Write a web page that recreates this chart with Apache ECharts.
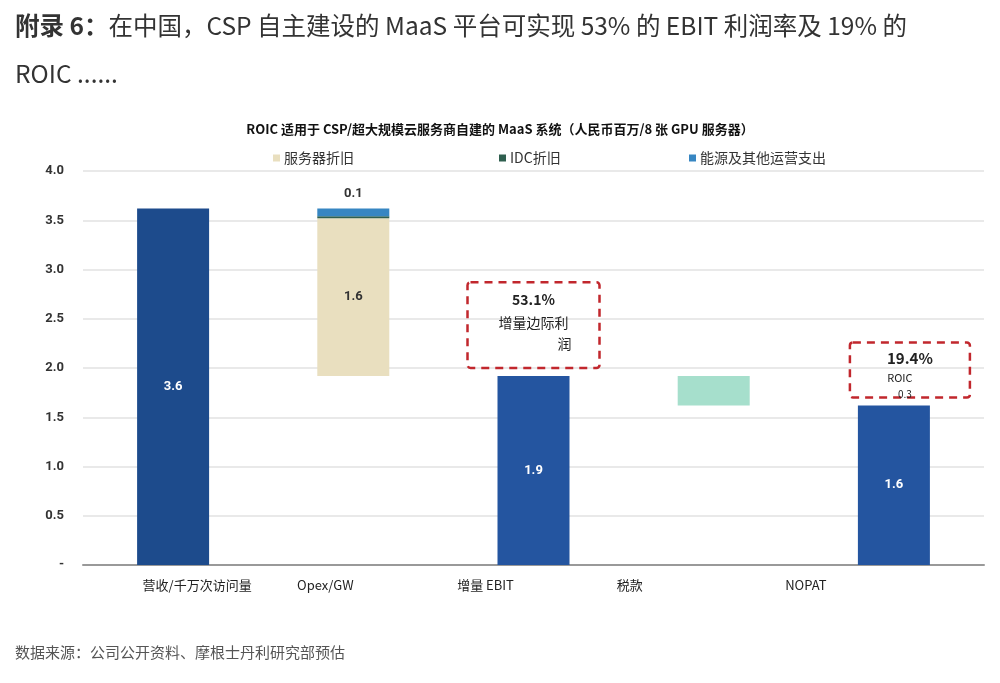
<!DOCTYPE html>
<html>
<head>
<meta charset="utf-8">
<script src="https://cdn.jsdelivr.net/npm/echarts@6/dist/echarts.min.js"></script>
<style>
  html, body { margin: 0; padding: 0; background: #fff; }
  #main { width: 1000px; height: 683px; }
</style>
</head>
<body>
<div id="main"></div>
<script>
// 数据
var categories = ['营收/千万次访问量', 'Opex/GW', '增量 EBIT', '税款', 'NOPAT'];
var baseValues = [0, 1.92, 0, 1.62, 0];          // 瀑布图透明底座
var mainValues = [3.62, '-', 1.92, '-', 1.62];   // 营收 / EBIT / NOPAT
var serverDep = ['-', 1.60, '-', '-', '-'];      // 服务器折旧
var idcDep = ['-', 0.02, '-', '-', '-'];         // IDC折旧
var energyOpex = ['-', 0.08, '-', '-', '-'];     // 能源及其他运营支出
var taxValues = ['-', '-', '-', 0.30, '-'];      // 税款
var yTicks = [0, 0.5, 1.0, 1.5, 2.0, 2.5, 3.0, 3.5, 4.0];
var ebitMargin = '53.1%';
var roic = '19.4%';

var labelShift = [24, -28, -48, -84, -88];

var cjk = '"Noto Sans CJK SC", "Noto Sans", sans-serif';
var num = 'Roboto, "Noto Sans", sans-serif';

var myChart = echarts.init(document.getElementById('main'));

var xRich = {};
labelShift.forEach(function (s, i) {
    xRich['s' + i] = {
        fontSize: 13,
        color: '#222',
        fontFamily: cjk,
        padding: s > 0 ? [0, 0, 0, s * 2] : [0, -s * 2, 0, 0]
    };
});

function fmt1(p) { return Number(p.value).toFixed(1); }

var option = {
    backgroundColor: '#fff',
    animation: false,
    title: [
        {
            text: '{b|附录 6：}在中国，CSP 自主建设的 MaaS 平台可实现 53% 的 EBIT 利润率及 19% 的',
            left: 10, top: 8,
            textStyle: {
                fontSize: 24.5, fontWeight: 'normal', color: '#333', fontFamily: cjk,
                rich: { b: { fontSize: 24.5, fontWeight: 'bold', color: '#333', fontFamily: cjk } }
            }
        },
        {
            text: 'ROIC ......',
            left: 10, top: 56,
            textStyle: { fontSize: 24.5, fontWeight: 'normal', color: '#333', fontFamily: cjk }
        },
        {
            text: 'ROIC 适用于 CSP/超大规模云服务商自建的 MaaS 系统（人民币百万/8 张 GPU 服务器）',
            left: 'center', top: 118,
            textStyle: { fontSize: 13, fontWeight: 'bold', color: '#111', fontFamily: cjk }
        },
        {
            text: '数据来源：公司公开资料、摩根士丹利研究部预估',
            left: 10, top: 640,
            textStyle: { fontSize: 15, fontWeight: 'normal', color: '#555', fontFamily: cjk }
        }
    ],
    legend: [
        { data: ['服务器折旧'], left: 268, top: 146 },
        { data: ['IDC折旧'], left: 494, top: 146 },
        { data: ['能源及其他运营支出'], left: 684, top: 146 }
    ].map(function (l) {
        return Object.assign(l, {
            icon: 'rect', itemWidth: 7, itemHeight: 7, itemGap: 0,
            textStyle: { fontSize: 14, color: '#333', fontFamily: cjk, padding: [0, 0, 0, -1] }
        });
    }),
    grid: { left: 83, right: 16, top: 171, bottom: 118 },
    xAxis: {
        type: 'category',
        data: categories,
        axisLine: { lineStyle: { color: '#999', width: 2 } },
        axisTick: { show: false },
        axisLabel: {
            interval: 0,
            margin: 14,
            formatter: function (v, i) { return '{s' + i + '|' + v + '}'; },
            rich: xRich
        }
    },
    yAxis: {
        type: 'value',
        min: yTicks[0], max: yTicks[yTicks.length - 1], interval: 0.5,
        axisLine: { show: false },
        axisTick: { show: false },
        splitLine: { lineStyle: { color: '#e2e2e2', width: 1.5 } },
        axisLabel: {
            margin: 19, fontSize: 13, fontWeight: 'bold', color: '#333', fontFamily: num,
            formatter: function (v) { return v === 0 ? '-' : v.toFixed(1); }
        }
    },
    series: [
        {
            name: 'base', type: 'bar', stack: 'w', barWidth: 72,
            itemStyle: { color: 'transparent' },
            data: baseValues, silent: true
        },
        {
            name: '主值', type: 'bar', stack: 'w', barWidth: 72,
            itemStyle: {
                color: function (p) { return p.dataIndex === 0 ? '#1d4b8c' : '#2455a0'; }
            },
            label: {
                show: true, position: 'inside', color: '#fff', fontWeight: 'bold',
                fontSize: 13, fontFamily: num, formatter: fmt1
            },
            data: mainValues
        },
        {
            name: '服务器折旧', type: 'bar', stack: 'w', barWidth: 72,
            itemStyle: { color: '#e9dfbf' },
            label: {
                show: true, position: 'inside', color: '#333', fontWeight: 'bold',
                fontSize: 13, fontFamily: num, formatter: fmt1
            },
            data: serverDep
        },
        {
            name: 'IDC折旧', type: 'bar', stack: 'w', barWidth: 72,
            itemStyle: { color: '#2f5f4f' },
            data: idcDep
        },
        {
            name: '能源及其他运营支出', type: 'bar', stack: 'w', barWidth: 72,
            itemStyle: { color: '#3786c2' },
            label: {
                show: true, position: 'top', distance: 8, color: '#333', fontWeight: 'bold',
                fontSize: 13, fontFamily: num, formatter: fmt1
            },
            data: energyOpex
        },
        {
            name: '税款', type: 'bar', stack: 'w', barWidth: 72,
            itemStyle: { color: '#a6dfcc' },
            data: taxValues
        }
    ]
};

myChart.setOption(option);

// 红色虚线标注框
function px(cat, val) { return myChart.convertToPixel({ gridIndex: 0 }, [cat, val]); }

function dashedBox(cx, halfW, yTop, yBottom) {
    return {
        type: 'rect',
        shape: { x: cx - halfW, y: yTop, width: halfW * 2, height: yBottom - yTop, r: 3 },
        style: { fill: 'none', stroke: '#c1272d', lineWidth: 2.5, lineDash: [8, 6] },
        z: 10
    };
}

function txt(x, y, text, size, bold) {
    return {
        type: 'text', x: x, y: y, z: 11,
        style: {
            text: text, fontSize: size, fontWeight: bold ? 'bold' : 'normal',
            fill: '#222', fontFamily: cjk, align: 'center', verticalAlign: 'middle'
        }
    };
}

var ebitTop = px(2, mainValues[2]);
var nopatTop = px(4, mainValues[4]);
var box1Top = px(2, 2.87)[1];
var box2Top = px(4, 2.26)[1];
var c1 = ebitTop[0];
var c2 = nopatTop[0] + 16;

myChart.setOption({
    graphic: [
        dashedBox(c1, 66, box1Top, ebitTop[1] - 8),
        txt(c1, box1Top + 17, ebitMargin, 14, true),
        txt(c1, box1Top + 40, '增量边际利', 14, false),
        txt(c1 + 31, box1Top + 61, '润', 14, false),
        dashedBox(c2, 60, box2Top, nopatTop[1] - 8),
        txt(c2, box2Top + 16, roic, 15, true),
        txt(c2 - 10, box2Top + 35, 'ROIC', 11, false),
        txt(c2 - 5, box2Top + 52, Number(taxValues[3]).toFixed(1), 10, false)
    ]
});

window.onresize = function () {
    myChart.resize();
};
</script>
</body>
</html>
